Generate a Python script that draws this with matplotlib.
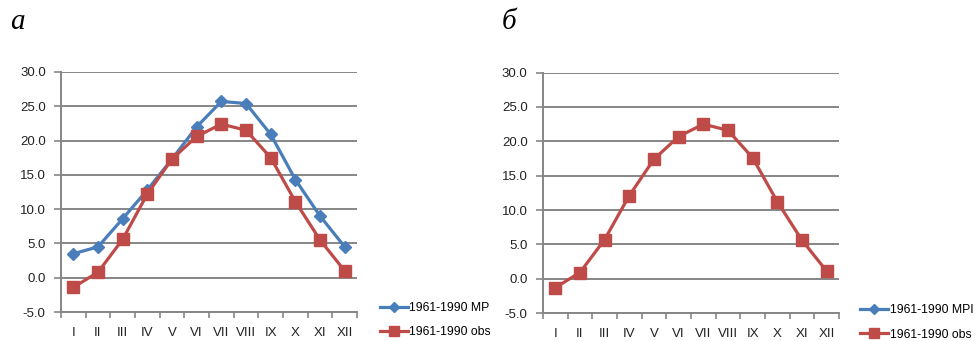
import numpy as np
import matplotlib.pyplot as plt
from matplotlib.lines import Line2D
from matplotlib.transforms import Bbox

months = ["I", "II", "III", "IV", "V", "VI", "VII", "VIII", "IX", "X", "XI", "XII"]
mpi_a = [3.5, 4.5, 8.6, 12.8, 17.3, 22.0, 25.7, 25.4, 20.9, 14.3, 9.0, 4.5]
obs_a = [-1.4, 0.8, 5.6, 12.2, 17.3, 20.6, 22.4, 21.5, 17.5, 11.1, 5.5, 1.0]
obs_b = [-1.3, 0.9, 5.7, 12.1, 17.4, 20.7, 22.5, 21.6, 17.6, 11.2, 5.6, 1.1]
yticks = [-5, 0, 5, 10, 15, 20, 25, 30]
series_names = ["1961-1990 MPI", "1961-1990 obs"]

BLUE = "#4a7ebb"
RED = "#be4b48"
GRID = "#868686"
FONT = "Liberation Sans"
FS = 9.5

fig = plt.figure(figsize=(9.79, 3.41), dpi=100)
ax_a = fig.add_axes([0.0623, 0.085, 0.3024, 0.704])
ax_b = fig.add_axes([0.5546, 0.082, 0.3024, 0.705])

x = np.arange(len(months))


def style_axis(ax):
    ax.set_xlim(-0.5, 11.5)
    ax.set_ylim(-5, 30)
    ax.set_yticks(yticks)
    ax.set_yticklabels([f"{v:.1f}" for v in yticks], fontsize=FS, family=FONT, color="#222222")
    ax.set_xticks(x)
    ax.set_xticklabels(months, fontsize=FS, family=FONT, color="#222222")
    ax.set_xticks(np.arange(-0.5, 12, 1), minor=True)
    ax.tick_params(axis="x", which="major", length=0, pad=11)
    ax.tick_params(axis="x", which="minor", length=4, width=1.2, color=GRID, direction="out")
    ax.tick_params(axis="y", length=5, width=1.2, color=GRID, pad=6)
    for s in ["top", "right"]:
        ax.spines[s].set_visible(False)
    ax.spines["left"].set_color(GRID)
    ax.spines["left"].set_linewidth(1.4)
    ax.spines["bottom"].set_color(GRID)
    ax.spines["bottom"].set_linewidth(1.4)
    ax.yaxis.grid(True, color=GRID, linewidth=1.4)
    ax.set_axisbelow(True)


handles = [
    Line2D([], [], color=BLUE, lw=2.3, marker="D", markersize=5, markerfacecolor=BLUE),
    Line2D([], [], color=RED, lw=2.3, marker="s", markersize=7.5, markerfacecolor=RED),
]

# panel а
style_axis(ax_a)
ax_a.plot(x, mpi_a, color=BLUE, lw=2.3, marker="D", markersize=6, zorder=3)
ax_a.plot(x, obs_a, color=RED, lw=2.3, marker="s", markersize=8, zorder=4)

# panel б (MPI series is empty, only in legend)
style_axis(ax_b)
ax_b.plot(x, obs_b, color=RED, lw=2.3, marker="s", markersize=8, zorder=4)

leg_kw = dict(frameon=False, handlelength=2.3, handletextpad=0.1, labelspacing=1.0,
              prop={"family": FONT, "size": 8.8}, loc="lower left", borderaxespad=0)
leg_a = ax_a.legend(handles, series_names, bbox_to_anchor=(1.06, -0.13), **leg_kw)
leg_b = ax_b.legend(handles, series_names, bbox_to_anchor=(1.055, -0.135), **leg_kw)

# left panel legend is cut off at the panel edge
clip = Bbox.from_extents(0, 0, 490, 341)
for t in leg_a.get_texts():
    t.set_clip_box(clip)
    t.set_clip_on(True)

fig.text(0.010, 0.915, "а", fontsize=21, family="Liberation Serif", style="italic")
fig.text(0.512, 0.915, "б", fontsize=21, family="Liberation Serif", style="italic")

fig.savefig("out.png", dpi=100)
